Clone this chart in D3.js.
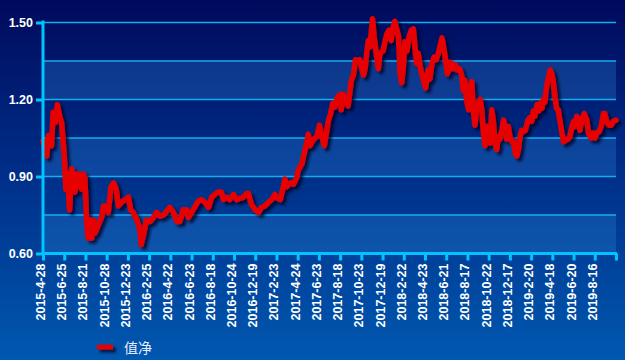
<!DOCTYPE html>
<html>
<head>
<meta charset="utf-8">
<script src="https://cdn.jsdelivr.net/npm/d3@7/dist/d3.min.js"></script>
<style>
html,body{margin:0;padding:0;background:#00246e;}
svg{display:block;}
</style>
</head>
<body>
<svg id="chart" width="625" height="360"></svg>
<script>
// trading-day index (40 days per tick interval)
const days = [0,4,7,10,13,16,19,23,27,32,35,40,43,46,50,54,57,60,64,67,70,73,76,79,82,85,89,92,95,98,104,111,114,120,123,128,133,138,142,148,155,161,165,170,177,182,185,189,195,202,208,214,221,227,233,239,246,252,258,264,271,274,280,287,293,299,305,312,318,324,330,336,340,346,352,359,365,371,378,384,387,393,400,406,412,418,425,431,437,442,447,453,456,459,466,472,478,481,488,491,497,500,503,510,516,521,525,530,535,538,542,546,550,555,560,562,566,572,575,581,585,589,594,597,604,607,610,613,616,621,624,629,632,635,641,645,648,652,656,660,663,667,670,673,676,679,682,686,690,694,698,701,704,707,712,717,721,726,729,733,737,741,745,748,752,755,758,762,766,768,772,777,780,785,789,792,795,798,802,805,808,811,814,817,820,824,827,830,833,836,839,843,846,849,852,855,858,861,865,868,871,874,877,880,884,887,890,893,896,899,902,905,909,914,918,921,924,927,931,934,937,940,943,946,949,952,956,959,962,965,968,971,974,978,981,984,989,993,997,1000,1003,1006,1009,1012,1015,1020,1025,1028,1033,1037,1040,1044,1048,1052,1056,1059,1063,1067,1071,1075,1080];
// net value
const navValues = [1.04,0.99,0.98,1.06,1.02,1.02,1.15,1.11,1.18,1.13,1.11,0.98,0.85,0.91,0.77,0.93,0.89,0.84,0.91,0.86,0.91,0.85,0.91,0.89,0.73,0.66,0.73,0.66,0.73,0.68,0.71,0.745,0.785,0.785,0.76,0.86,0.875,0.85,0.785,0.80,0.81,0.82,0.77,0.76,0.73,0.70,0.635,0.67,0.73,0.725,0.74,0.76,0.745,0.75,0.765,0.78,0.76,0.725,0.725,0.77,0.77,0.74,0.76,0.785,0.805,0.81,0.80,0.78,0.82,0.83,0.84,0.84,0.81,0.82,0.81,0.83,0.81,0.815,0.82,0.835,0.835,0.79,0.77,0.76,0.78,0.785,0.80,0.81,0.83,0.815,0.81,0.86,0.89,0.86,0.875,0.87,0.895,0.925,0.95,0.98,1.03,1.065,1.02,1.045,1.055,1.10,1.065,1.02,1.08,1.12,1.145,1.185,1.17,1.21,1.22,1.16,1.22,1.185,1.175,1.275,1.295,1.355,1.35,1.355,1.295,1.32,1.38,1.43,1.405,1.515,1.445,1.365,1.32,1.38,1.39,1.43,1.455,1.47,1.43,1.485,1.505,1.47,1.445,1.30,1.265,1.325,1.425,1.39,1.445,1.47,1.475,1.405,1.34,1.38,1.315,1.275,1.245,1.315,1.28,1.34,1.365,1.355,1.38,1.405,1.44,1.405,1.365,1.30,1.325,1.345,1.32,1.335,1.315,1.32,1.295,1.235,1.275,1.20,1.16,1.25,1.27,1.16,1.10,1.16,1.185,1.20,1.16,1.07,1.02,1.095,1.095,1.03,1.16,1.11,1.03,1.005,1.055,1.045,1.08,1.12,1.095,1.045,1.095,1.055,1.035,1.035,0.99,0.98,1.005,1.055,1.08,1.075,1.08,1.12,1.13,1.115,1.155,1.135,1.18,1.155,1.185,1.165,1.20,1.19,1.25,1.28,1.315,1.30,1.265,1.21,1.165,1.16,1.12,1.07,1.035,1.04,1.045,1.055,1.095,1.115,1.095,1.135,1.115,1.08,1.115,1.145,1.12,1.07,1.05,1.07,1.05,1.07,1.075,1.095,1.145,1.145,1.11,1.10,1.10,1.115,1.12];
const tickLabels = ["2015-4-28","2015-6-25","2015-8-21","2015-10-28","2015-12-23","2016-2-25","2016-4-22","2016-6-23","2016-8-18","2016-10-24","2016-12-19","2017-2-23","2017-4-24","2017-6-23","2017-8-18","2017-10-23","2017-12-19","2018-2-22","2018-4-23","2018-6-21","2018-8-17","2018-10-22","2018-12-17","2019-2-20","2019-4-18","2019-6-20","2019-8-16",""];
const yTickValues = [0.60,0.90,1.20,1.50];
const gridValues = [0.75,0.90,1.05,1.20,1.35,1.50];
const bandRanges = [[1.20,1.35],[0.90,1.05],[0.60,0.75]];
const seriesName = "值净";
const daysPerTick = 40;

(function(){
const svg = d3.select("#chart");
const W = 625, H = 360;
const pL = 43, pR = 616, pT = 22.5, pB = 253.5;

const defs = svg.append("defs");
const bg = defs.append("linearGradient").attr("id","bg").attr("x1",0).attr("y1",0).attr("x2",0).attr("y2",1);
bg.append("stop").attr("offset","0%").attr("stop-color","#000a5c");
bg.append("stop").attr("offset","45%").attr("stop-color","#002c86");
bg.append("stop").attr("offset","100%").attr("stop-color","#0058b0");
const f = defs.append("filter").attr("id","shadow").attr("filterUnits","userSpaceOnUse")
  .attr("x",0).attr("y",0).attr("width",W).attr("height",H);
f.append("feDropShadow").attr("dx",3).attr("dy",3).attr("stdDeviation",1.5).attr("flood-color","#000020").attr("flood-opacity",0.75);

svg.append("rect").attr("width",W).attr("height",H).attr("fill","url(#bg)");

const x = d3.scaleLinear().domain([0, daysPerTick*(tickLabels.length-1)]).range([pL,pR]);
const y = d3.scaleLinear().domain([0.6,1.5]).range([pB,pT]);

svg.append("g").selectAll("rect").data(bandRanges).join("rect")
  .attr("x",pL).attr("width",pR-pL)
  .attr("y",d=>y(d[1])).attr("height",d=>y(d[0])-y(d[1]))
  .attr("fill","#2a86d8").attr("opacity",0.3);

svg.append("g").selectAll("line").data(gridValues).join("line")
  .attr("x1",pL).attr("x2",pR).attr("y1",d=>y(d)).attr("y2",d=>y(d))
  .attr("stroke","#14aef0").attr("stroke-width",1.6);

const pts = days.map((d,i)=>[d,navValues[i]]);
const line = d3.line().x(d=>x(d[0])).y(d=>y(d[1]));
svg.append("path").datum(pts).attr("d",line)
  .attr("fill","none").attr("stroke","#e60000").attr("stroke-width",5.5)
  .attr("stroke-linejoin","round").attr("stroke-linecap","round")
  .attr("filter","url(#shadow)");

const yAxis = d3.axisLeft(y).tickValues(yTickValues).tickFormat(d3.format(".2f")).tickSize(7).tickPadding(3);
const gy = svg.append("g").attr("transform",`translate(${pL},0)`).call(yAxis);
gy.select(".domain").attr("stroke","#00c4ff").attr("stroke-width",3).attr("d",`M0,${pT-2}V${pB}`);
gy.selectAll(".tick line").attr("stroke","#00c4ff").attr("stroke-width",3);
gy.selectAll(".tick text").attr("fill","#ffffff").attr("font-family","'Liberation Sans',Arial,sans-serif")
  .attr("font-weight","bold").attr("font-size","12.5px");

const xTicks = tickLabels.map((_,i)=>i*daysPerTick);
const xAxis = d3.axisBottom(x).tickValues(xTicks).tickFormat("").tickSize(7);
const gx = svg.append("g").attr("transform",`translate(0,${pB})`).call(xAxis);
gx.select(".domain").attr("stroke","#00c4ff").attr("stroke-width",3).attr("d",`M${pL-1},0H${pR+1}`);
gx.selectAll(".tick line").attr("stroke","#00c4ff").attr("stroke-width",3);
gx.selectAll(".tick").append("text")
  .attr("transform","translate(1.5,10) rotate(-90)")
  .attr("text-anchor","end")
  .attr("fill","#ffffff").attr("font-family","'Liberation Sans',Arial,sans-serif")
  .attr("font-weight","bold").attr("font-size","12.5px")
  .text((d,i)=>tickLabels[i]);

const lg = svg.append("g");
lg.append("rect").attr("x",97).attr("y",344.5).attr("width",16).attr("height",5)
  .attr("fill","#e60000").attr("filter","url(#shadow)");
lg.append("text").attr("x",124).attr("y",352.5).attr("fill","#e8ecff")
  .attr("font-family","'Noto Sans CJK SC',sans-serif").attr("font-size","14px").text(seriesName);
})();
</script>
</body>
</html>
